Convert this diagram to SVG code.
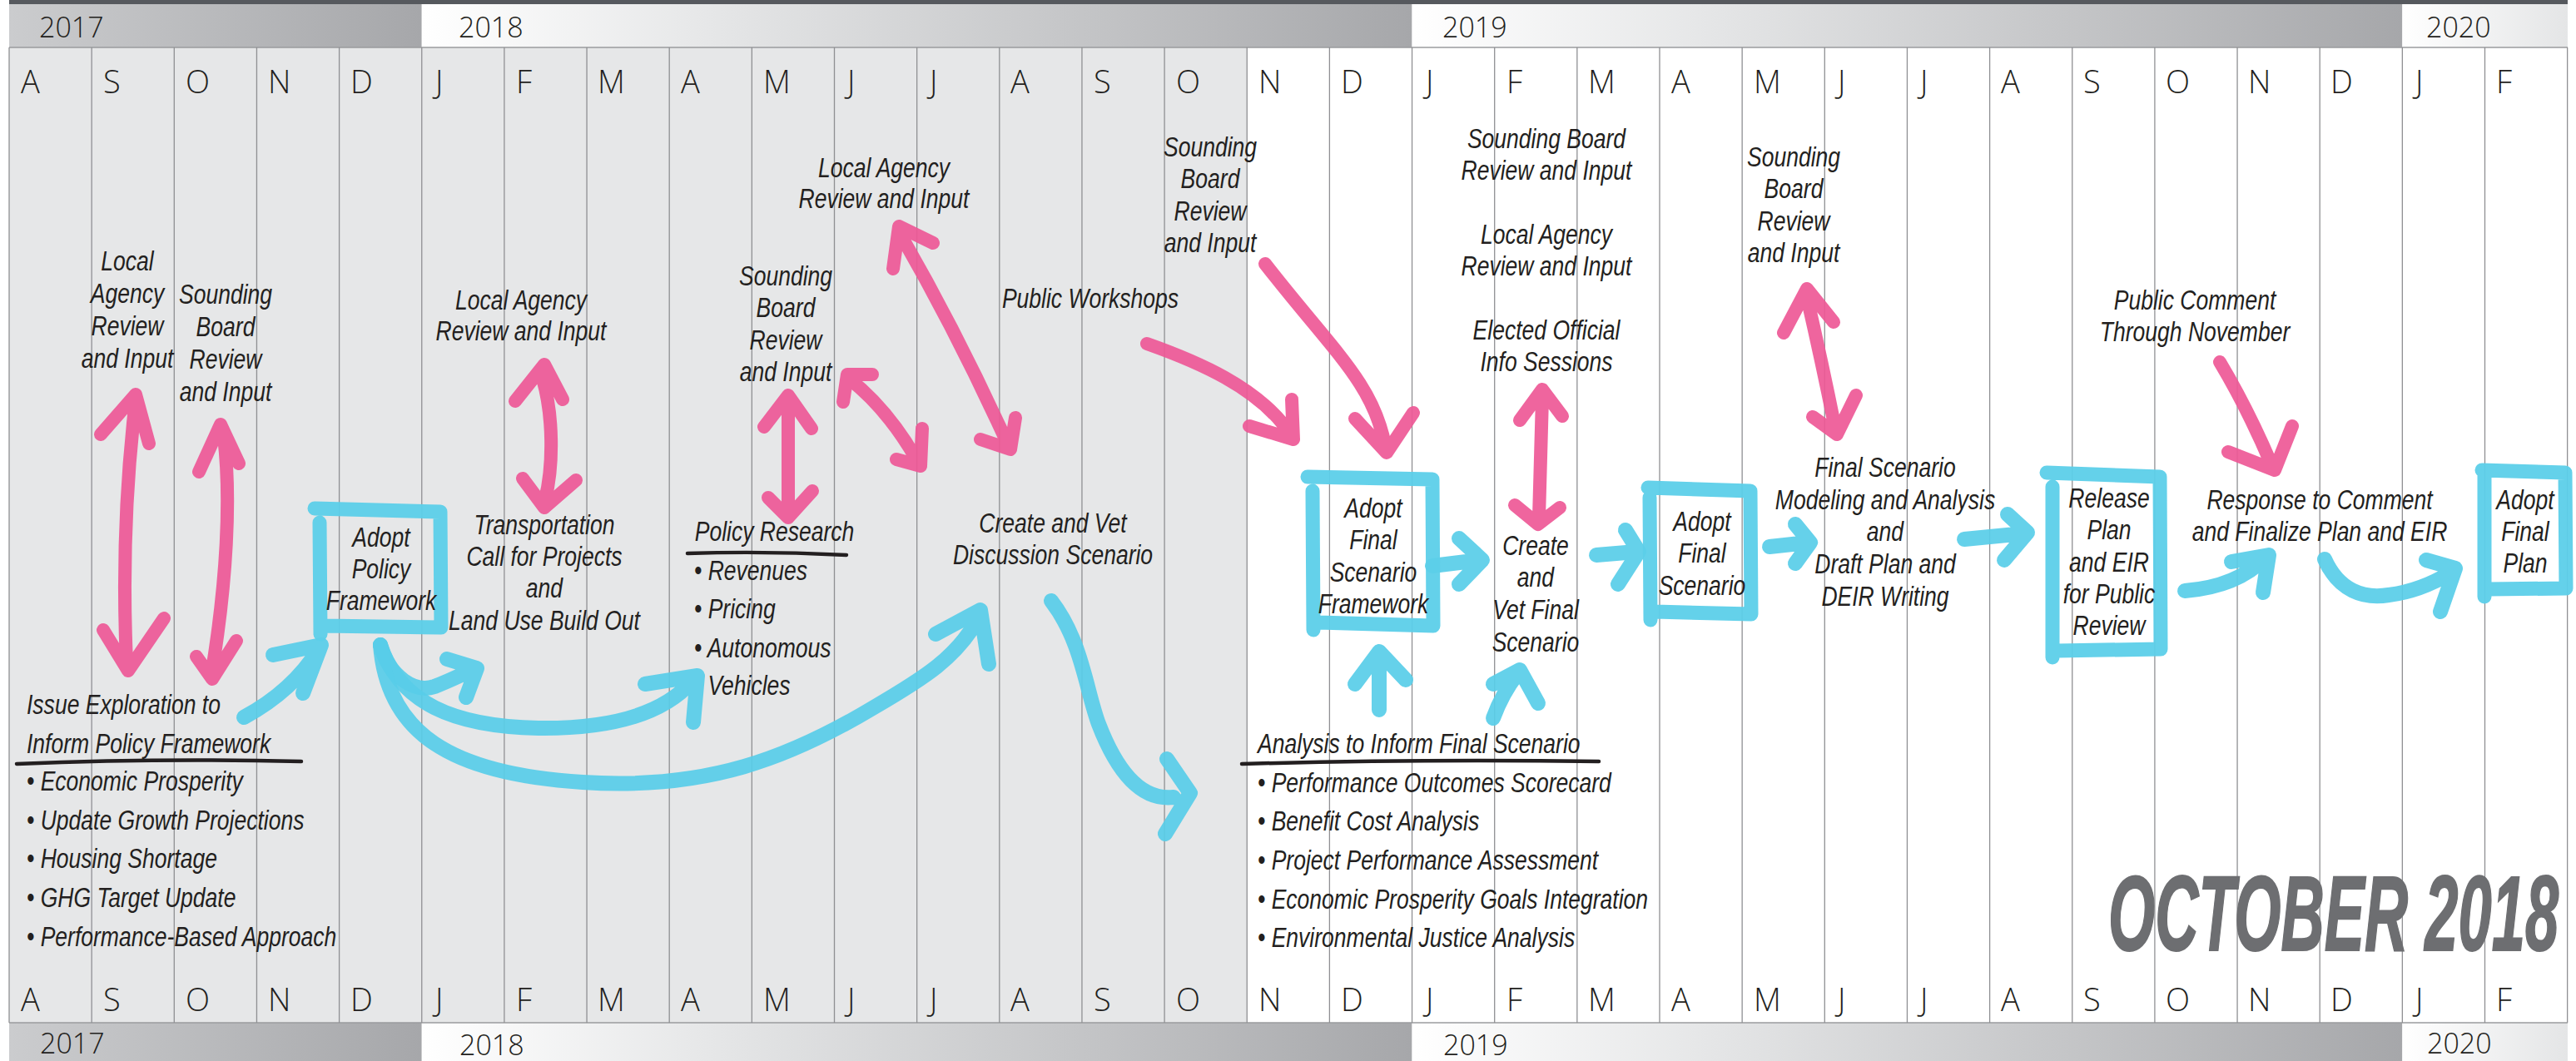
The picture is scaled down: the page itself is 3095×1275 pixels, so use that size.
<svg xmlns="http://www.w3.org/2000/svg" width="3095" height="1275" viewBox="0 0 3095 1275">
<style>
.h{font-family:"Liberation Sans",Arial,sans-serif;font-style:italic;font-size:34px;fill:#231f20}
.c{text-anchor:middle}
.mo{font-family:"Open Sans","Liberation Sans",sans-serif;font-weight:300;font-size:38px;fill:#231f20}
.yr{font-family:"Open Sans","Liberation Sans",sans-serif;font-weight:300;font-size:34px;fill:#231f20}
.col{stroke:#8f9093;stroke-width:1.3}
.pk{fill:none;stroke:#ee5896;stroke-width:16;stroke-linecap:round;stroke-linejoin:round;opacity:.92}
.bl{fill:none;stroke:#58cde8;stroke-width:18;stroke-linecap:round;stroke-linejoin:round;opacity:.92}
.bx{fill:none;stroke:#5ccfe9;stroke-width:17;stroke-linecap:round;stroke-linejoin:round;opacity:.95}
.ul{fill:none;stroke:#231f20;stroke-width:4.5;stroke-linecap:round}
.big{font-family:"Liberation Sans",Arial,sans-serif;font-style:italic;font-weight:bold;font-size:128px;fill:#6d6e71;stroke:#6d6e71;stroke-width:2}
</style>
<defs>
<linearGradient id="g17" x1="0" x2="1" y1="0" y2="0"><stop offset="0" stop-color="#cbccce"/><stop offset="1" stop-color="#a6a7aa"/></linearGradient>
<linearGradient id="gy" x1="0" x2="1" y1="0" y2="0"><stop offset="0" stop-color="#ffffff"/><stop offset=".3" stop-color="#e5e6e7"/><stop offset="1" stop-color="#a6a7aa"/></linearGradient>
<linearGradient id="g20" x1="0" x2="1" y1="0" y2="0"><stop offset="0" stop-color="#ffffff"/><stop offset="1" stop-color="#e4e5e6"/></linearGradient>
</defs>
<rect x="0" y="0" width="3095" height="1275" fill="#ffffff"/>
<g id="grid">
<rect x="11" y="57" width="1487.25" height="1172" fill="#e6e7e8"/>
<rect x="11" y="0" width="3074" height="5" fill="#56595e"/>
<rect x="11" y="5" width="495.75" height="52" fill="url(#g17)"/>
<rect x="506.75" y="5" width="1189.8" height="52" fill="url(#gy)"/>
<rect x="1696.55" y="5" width="1189.8" height="52" fill="url(#gy)"/>
<rect x="2886.35" y="5" width="198.65" height="52" fill="url(#g20)"/>
<rect x="11" y="1229" width="495.75" height="46" fill="url(#g17)"/>
<rect x="506.75" y="1229" width="1189.8" height="46" fill="url(#gy)"/>
<rect x="1696.55" y="1229" width="1189.8" height="46" fill="url(#gy)"/>
<rect x="2886.35" y="1229" width="198.65" height="46" fill="url(#g20)"/>
<line x1="11" y1="57" x2="3085" y2="57" stroke="#9a9b9e" stroke-width="1.5"/>
<line x1="11" y1="1229" x2="3085" y2="1229" stroke="#9a9b9e" stroke-width="1.5"/>
<g class="col">
<line x1="11" y1="57" x2="11" y2="1229"/><line x1="110.15" y1="57" x2="110.15" y2="1229"/><line x1="209.3" y1="57" x2="209.3" y2="1229"/><line x1="308.45" y1="57" x2="308.45" y2="1229"/><line x1="407.6" y1="57" x2="407.6" y2="1229"/><line x1="506.75" y1="57" x2="506.75" y2="1229"/><line x1="605.9" y1="57" x2="605.9" y2="1229"/><line x1="705.05" y1="57" x2="705.05" y2="1229"/><line x1="804.2" y1="57" x2="804.2" y2="1229"/><line x1="903.35" y1="57" x2="903.35" y2="1229"/><line x1="1002.5" y1="57" x2="1002.5" y2="1229"/><line x1="1101.65" y1="57" x2="1101.65" y2="1229"/><line x1="1200.8" y1="57" x2="1200.8" y2="1229"/><line x1="1299.95" y1="57" x2="1299.95" y2="1229"/><line x1="1399.1" y1="57" x2="1399.1" y2="1229"/><line x1="1498.25" y1="57" x2="1498.25" y2="1229"/><line x1="1597.4" y1="57" x2="1597.4" y2="1229"/><line x1="1696.55" y1="57" x2="1696.55" y2="1229"/><line x1="1795.7" y1="57" x2="1795.7" y2="1229"/><line x1="1894.85" y1="57" x2="1894.85" y2="1229"/><line x1="1994" y1="57" x2="1994" y2="1229"/><line x1="2093.15" y1="57" x2="2093.15" y2="1229"/><line x1="2192.3" y1="57" x2="2192.3" y2="1229"/><line x1="2291.45" y1="57" x2="2291.45" y2="1229"/><line x1="2390.6" y1="57" x2="2390.6" y2="1229"/><line x1="2489.75" y1="57" x2="2489.75" y2="1229"/><line x1="2588.9" y1="57" x2="2588.9" y2="1229"/><line x1="2688.05" y1="57" x2="2688.05" y2="1229"/><line x1="2787.2" y1="57" x2="2787.2" y2="1229"/><line x1="2886.35" y1="57" x2="2886.35" y2="1229"/><line x1="2985.5" y1="57" x2="2985.5" y2="1229"/><line x1="3084.65" y1="57" x2="3084.65" y2="1229"/>
</g>
<g class="yr">
<text x="47" y="45">2017</text><text x="551" y="45">2018</text><text x="1733" y="45">2019</text><text x="2915" y="45">2020</text>
<text x="48" y="1266">2017</text><text x="552" y="1268">2018</text><text x="1734" y="1268">2019</text><text x="2916" y="1266">2020</text>
</g>
<g class="mo">
<text x="25" y="112">A</text><text x="124" y="112">S</text><text x="223" y="112">O</text><text x="322" y="112">N</text><text x="421" y="112">D</text><text x="523" y="112">J</text><text x="620" y="112">F</text><text x="718" y="112">M</text><text x="818" y="112">A</text><text x="917" y="112">M</text><text x="1018" y="112">J</text><text x="1117" y="112">J</text><text x="1214" y="112">A</text><text x="1314" y="112">S</text><text x="1413" y="112">O</text><text x="1512" y="112">N</text><text x="1611" y="112">D</text><text x="1713" y="112">J</text><text x="1810" y="112">F</text><text x="1908" y="112">M</text><text x="2008" y="112">A</text><text x="2107" y="112">M</text><text x="2208" y="112">J</text><text x="2307" y="112">J</text><text x="2404" y="112">A</text><text x="2503" y="112">S</text><text x="2602" y="112">O</text><text x="2701" y="112">N</text><text x="2800" y="112">D</text><text x="2902" y="112">J</text><text x="2999" y="112">F</text>
<text x="25" y="1215">A</text><text x="124" y="1215">S</text><text x="223" y="1215">O</text><text x="322" y="1215">N</text><text x="421" y="1215">D</text><text x="523" y="1215">J</text><text x="620" y="1215">F</text><text x="718" y="1215">M</text><text x="818" y="1215">A</text><text x="917" y="1215">M</text><text x="1018" y="1215">J</text><text x="1117" y="1215">J</text><text x="1214" y="1215">A</text><text x="1314" y="1215">S</text><text x="1413" y="1215">O</text><text x="1512" y="1215">N</text><text x="1611" y="1215">D</text><text x="1713" y="1215">J</text><text x="1810" y="1215">F</text><text x="1908" y="1215">M</text><text x="2008" y="1215">A</text><text x="2107" y="1215">M</text><text x="2208" y="1215">J</text><text x="2307" y="1215">J</text><text x="2404" y="1215">A</text><text x="2503" y="1215">S</text><text x="2602" y="1215">O</text><text x="2701" y="1215">N</text><text x="2800" y="1215">D</text><text x="2902" y="1215">J</text><text x="2999" y="1215">F</text>
</g>
</g>

<g id="connectors">
<g id="pink">
<path class="pk" d="M162,490 Q145,640 152,795 M121,522 L163,474 L179,533 M124,757 L154,806 L197,743"/>
<path class="pk" d="M269,525 C278,600 272,700 255,805 M239,567 L265,510 L287,557 M236,789 L255,816 L284,770"/>
<path class="pk" d="M652,455 C665,500 665,560 655,600 M619,482 L654,438 L676,480 M628,575 L654,610 L692,577"/>
<path class="pk" d="M947,482 L947,615 M918,513 L947,475 L975,515 M923,598 L947,622 L976,590"/>
<path class="pk" d="M1020,455 Q1065,490 1100,550 M1013,483 L1018,450 L1048,450 M1077,552 L1106,560 L1108,515"/>
<path class="pk" d="M1082,282 Q1150,400 1210,532 M1073,323 L1080,272 L1121,292 M1178,528 L1214,540 L1220,502"/>
<path class="pk" d="M1378,413 C1440,435 1510,465 1548,518 M1501,512 L1554,528 L1552,480"/>
<path class="pk" d="M1520,317 C1600,420 1650,460 1664,535 M1628,503 L1666,544 L1698,496"/>
<path class="pk" d="M1853,478 L1849,622 M1826,505 L1853,468 L1877,500 M1820,607 L1848,630 L1874,610"/>
<path class="pk" d="M2171,357 Q2190,440 2205,515 M2143,400 L2171,347 L2203,387 M2178,501 L2207,522 L2230,475"/>
<path class="pk" d="M2667,435 Q2700,490 2729,558 M2677,543 L2733,565 L2754,512"/>
</g>
<g id="blue">
<path class="bl" d="M293,862 Q352,830 383,780 M328,787 L386,775 L364,833"/>
<path class="bl" d="M457,775 C468,815 500,833 522,825 C540,818 552,812 563,807 M537,792 L573,803 L560,838"/>
<path class="bl" d="M457,775 C480,845 545,873 647,875 C740,876 800,855 832,818 M775,822 L838,812 L833,868"/>
<path class="bl" d="M457,775 C465,880 540,930 700,940 C850,950 950,910 1050,850 C1110,815 1150,790 1176,742 M1124,762 L1178,733 L1188,798"/>
<path class="bl" d="M1263,722 C1300,770 1305,830 1320,870 C1345,935 1375,962 1410,958 M1402,912 L1430,953 L1400,1002"/>
<path class="bl" d="M1721,680 L1778,673 M1753,647 L1781,673 L1753,702"/>
<path class="bl" d="M1657,853 L1657,788 M1628,822 L1657,783 L1689,817"/>
<path class="bl" d="M1794,863 Q1805,833 1823,810 M1794,822 L1826,805 L1848,845"/>
<path class="bl" d="M1918,667 L1966,663 M1953,637 L1969,663 L1944,702"/>
<path class="bl" d="M2126,657 L2172,652 M2157,630 L2175,652 L2157,677"/>
<path class="bl" d="M2360,648 L2432,641 M2412,618 L2436,640 L2408,673"/>
<path class="bl" d="M2625,710 Q2688,705 2722,670 M2681,675 L2726,667 L2719,712"/>
<path class="bl" d="M2793,672 C2810,710 2840,720 2870,715 C2895,712 2920,703 2945,688 M2915,673 L2950,683 L2932,735"/>
</g>
<g id="underlines">
<path class="ul" d="M20,918 Q190,911 362,915"/>
<path class="ul" d="M826,665 Q920,662 1017,667"/>
<path class="ul" d="M1492,918 Q1700,912 1921,915"/>
</g>
</g>

<g id="n-local-agency-2017">
<text class="h c" transform="translate(153,325) scale(.78 1)"><tspan x="0">Local</tspan><tspan x="0" dy="39">Agency</tspan><tspan x="0" dy="39">Review</tspan><tspan x="0" dy="39">and Input</tspan></text>
</g>
<g id="n-sounding-2017">
<text class="h c" transform="translate(271,365) scale(.78 1)"><tspan x="0">Sounding</tspan><tspan x="0" dy="39">Board</tspan><tspan x="0" dy="39">Review</tspan><tspan x="0" dy="39">and Input</tspan></text>
</g>
<g id="n-issue">
<text class="h" transform="translate(32,858) scale(.78 1)"><tspan x="0">Issue Exploration to</tspan><tspan x="0" dy="47">Inform Policy Framework</tspan><tspan x="0" dy="45">• Economic Prosperity</tspan><tspan x="0" dy="47">• Update Growth Projections</tspan><tspan x="0" dy="46">• Housing Shortage</tspan><tspan x="0" dy="47">• GHG Target Update</tspan><tspan x="0" dy="47">• Performance-Based Approach</tspan></text>
</g>
<g id="n-adopt-policy">
<path class="bx" d="M378,611 L529,615 L530,754 L388,752 M384,628 L385,762"/>
<text class="h c" transform="translate(458,657) scale(.78 1)"><tspan x="0">Adopt</tspan><tspan x="0" dy="38">Policy</tspan><tspan x="0" dy="38">Framework</tspan></text>
</g>
<g id="n-local-agency-feb18">
<text class="h c" transform="translate(626,372) scale(.78 1)"><tspan x="0">Local Agency</tspan><tspan x="0" dy="37">Review and Input</tspan></text>
</g>
<g id="n-transportation">
<text class="h c" transform="translate(654,642) scale(.78 1)"><tspan x="0">Transportation</tspan><tspan x="0" dy="38">Call for Projects</tspan><tspan x="0" dy="38">and</tspan><tspan x="0" dy="39">Land Use Build Out</tspan></text>
</g>
<g id="n-sounding-may18">
<text class="h c" transform="translate(944,343) scale(.78 1)"><tspan x="0">Sounding</tspan><tspan x="0" dy="38.5">Board</tspan><tspan x="0" dy="38.5">Review</tspan><tspan x="0" dy="38.5">and Input</tspan></text>
</g>
<g id="n-policy-research">
<text class="h" transform="translate(834,650) scale(.78 1)"><tspan x="1">Policy Research</tspan><tspan x="0" dy="47">• Revenues</tspan><tspan x="0" dy="46">• Pricing</tspan><tspan x="0" dy="47">• Autonomous</tspan><tspan x="21" dy="45">Vehicles</tspan></text>
</g>
<g id="n-local-agency-jun18">
<text class="h c" transform="translate(1062,213) scale(.78 1)"><tspan x="0">Local Agency</tspan><tspan x="0" dy="37">Review and Input</tspan></text>
</g>
<g id="n-public-workshops">
<text class="h c" transform="translate(1310,370) scale(.78 1)">Public Workshops</text>
</g>
<g id="n-create-vet-discussion">
<text class="h c" transform="translate(1265,640) scale(.78 1)"><tspan x="0">Create and Vet</tspan><tspan x="0" dy="38">Discussion Scenario</tspan></text>
</g>
<g id="n-sounding-oct18">
<text class="h c" transform="translate(1454,188) scale(.78 1)"><tspan x="0">Sounding</tspan><tspan x="0" dy="38.5">Board</tspan><tspan x="0" dy="38.5">Review</tspan><tspan x="0" dy="38.5">and Input</tspan></text>
</g>
<g id="n-adopt-final-framework">
<path class="bx" d="M1571,573 L1721,576 L1722,752 L1584,748 M1577,590 L1578,757"/>
<text class="h c" transform="translate(1650,622) scale(.78 1)"><tspan x="0">Adopt</tspan><tspan x="0" dy="38.5">Final</tspan><tspan x="0" dy="38.5">Scenario</tspan><tspan x="0" dy="38.5">Framework</tspan></text>
</g>
<g id="n-sounding-feb19">
<text class="h c" transform="translate(1858,178) scale(.78 1)"><tspan x="0">Sounding Board</tspan><tspan x="0" dy="38">Review and Input</tspan></text>
</g>
<g id="n-local-agency-feb19">
<text class="h c" transform="translate(1858,293) scale(.78 1)"><tspan x="0">Local Agency</tspan><tspan x="0" dy="38">Review and Input</tspan></text>
</g>
<g id="n-elected">
<text class="h c" transform="translate(1858,408) scale(.78 1)"><tspan x="0">Elected Official</tspan><tspan x="0" dy="38">Info Sessions</tspan></text>
</g>
<g id="n-create-vet-final">
<text class="h c" transform="translate(1845,667) scale(.78 1)"><tspan x="0">Create</tspan><tspan x="0" dy="38.5">and</tspan><tspan x="0" dy="39">Vet Final</tspan><tspan x="0" dy="38.5">Scenario</tspan></text>
</g>
<g id="n-analysis">
<text class="h" transform="translate(1511,905) scale(.78 1)"><tspan x="0">Analysis to Inform Final Scenario</tspan><tspan x="0" dy="47">• Performance Outcomes Scorecard</tspan><tspan x="0" dy="46">• Benefit Cost Analysis</tspan><tspan x="0" dy="47">• Project Performance Assessment</tspan><tspan x="0" dy="47">• Economic Prosperity Goals Integration</tspan><tspan x="0" dy="46">• Environmental Justice Analysis</tspan></text>
</g>
<g id="n-adopt-final-scenario">
<path class="bx" d="M1980,586 L2103,590 L2104,738 L1988,735 M1982,598 L1983,745"/>
<text class="h c" transform="translate(2045,638) scale(.78 1)"><tspan x="0">Adopt</tspan><tspan x="0" dy="38.5">Final</tspan><tspan x="0" dy="38.5">Scenario</tspan></text>
</g>
<g id="n-sounding-may19">
<text class="h c" transform="translate(2155,200) scale(.78 1)"><tspan x="0">Sounding</tspan><tspan x="0" dy="38.5">Board</tspan><tspan x="0" dy="38.5">Review</tspan><tspan x="0" dy="38.5">and Input</tspan></text>
</g>
<g id="n-final-modeling">
<text class="h c" transform="translate(2265,573) scale(.78 1)"><tspan x="0">Final Scenario</tspan><tspan x="0" dy="38.7">Modeling and Analysis</tspan><tspan x="0" dy="38.7">and</tspan><tspan x="0" dy="38.7">Draft Plan and</tspan><tspan x="0" dy="38.7">DEIR Writing</tspan></text>
</g>
<g id="n-release">
<path class="bx" d="M2459,568 L2595,573 L2596,780 L2472,782 M2466,585 L2466,790"/>
<text class="h c" transform="translate(2534,610) scale(.78 1)"><tspan x="0">Release</tspan><tspan x="0" dy="38.3">Plan</tspan><tspan x="0" dy="38.3">and EIR</tspan><tspan x="0" dy="38.3">for Public</tspan><tspan x="0" dy="38.3">Review</tspan></text>
</g>
<g id="n-public-comment">
<text class="h c" transform="translate(2637,372) scale(.78 1)"><tspan x="0">Public Comment</tspan><tspan x="0" dy="38">Through November</tspan></text>
</g>
<g id="n-response">
<text class="h c" transform="translate(2787,612) scale(.78 1)"><tspan x="0">Response to Comment</tspan><tspan x="0" dy="38">and Finalize Plan and EIR</tspan></text>
</g>
<g id="n-adopt-final-plan">
<path class="bx" d="M2982,565 L3082,568 L3083,707 L2990,708 M2985,572 L2985,717"/>
<text class="h c" transform="translate(3034,612) scale(.78 1)"><tspan x="0">Adopt</tspan><tspan x="0" dy="38">Final</tspan><tspan x="0" dy="38">Plan</tspan></text>
</g>
<g id="stamp">
<text class="big" transform="translate(2533,1142) scale(.565 1)">OCTOBER 2018</text>
</g>
</svg>
